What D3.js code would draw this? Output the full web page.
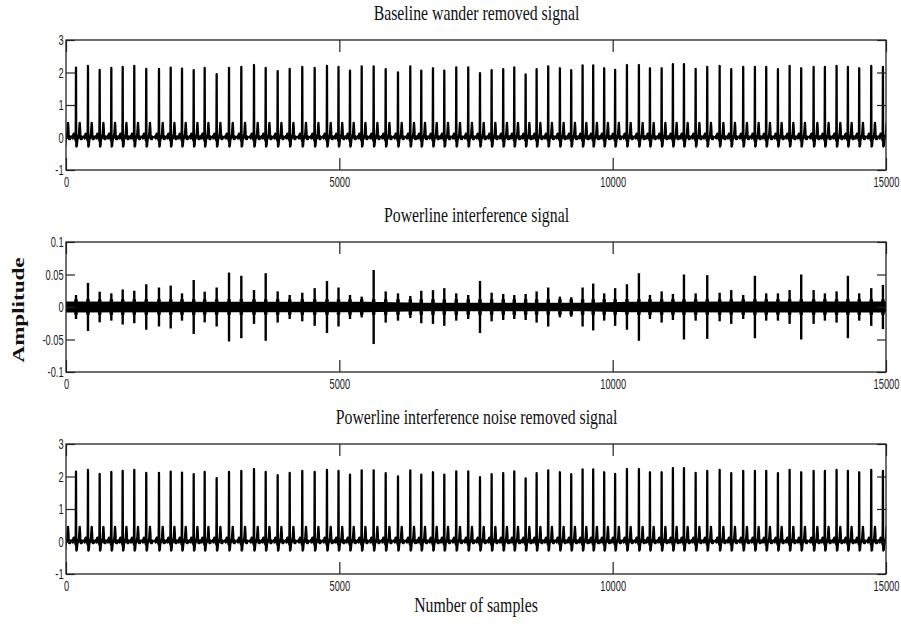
<!DOCTYPE html>
<html>
<head>
<meta charset="utf-8">
<script src="https://cdn.jsdelivr.net/npm/d3@7"></script>
<style>
  html, body { margin: 0; padding: 0; background: #fff; }
  svg { display: block; }
</style>
</head>
<body>
<svg id="chart" width="901" height="624"></svg>
<script>
// ---------------- DATA ----------------
const panelTitles = [
  "Baseline wander removed signal",
  "Powerline interference signal",
  "Powerline interference noise removed signal"
];
const xLabel = "Number of samples";
const yLabel = "Amplitude";

const xTicks = [0, 5000, 10000, 15000];
const yTicksEcg = [-1, 0, 1, 2, 3];
const yTicksPowerline = [-0.1, -0.05, 0, 0.05, 0.1];

// R-peak sample positions (first one is the beat just before the record start)
const beatSamples = [
  -31, 183, 402, 616, 829, 1037, 1249, 1468, 1701, 1915, 2122, 2336, 2537, 2756, 2982, 3207,
  3439, 3653, 3872, 4092, 4322, 4549, 4774, 4985, 5195, 5409, 5628, 5848, 6073,
  6298, 6499, 6713, 6920, 7139, 7358, 7573, 7786, 7998, 8200, 8408, 8609, 8821,
  9035, 9242, 9450, 9644, 9845, 10045, 10261, 10480, 10682, 10896, 11102, 11304,
  11518, 11730, 11957, 12169, 12388, 12602, 12809, 13023, 13237, 13449, 13676,
  13882, 14096, 14303, 14510, 14730, 14944
];
// R-peak amplitudes of the ECG (same beats)
const beatPeaks = [
  2.10, 2.15, 2.20, 2.08, 2.14, 2.17, 2.20, 2.11, 2.11, 2.15, 2.12, 2.07, 2.14, 1.95, 2.14, 2.17,
  2.23, 2.14, 2.04, 2.11, 2.17, 2.14, 2.20, 2.17,
  2.06, 2.19, 2.19, 2.10, 2.00, 2.19, 2.06, 2.13, 2.06, 2.16, 2.16, 1.98, 2.07,
  2.10, 2.16, 1.94, 2.10, 2.19, 2.13, 2.07, 2.22, 2.22, 2.13,
  2.08,
  2.23, 2.23, 2.13, 2.13, 2.26, 2.26, 2.11, 2.17, 2.20, 2.10, 2.17, 2.17, 2.17,
  2.10, 2.20, 2.13, 2.17, 2.17, 2.20, 2.17, 2.13, 2.20, 2.17
];
// Powerline-interference spike amplitude at each beat
const beatPowerline = [
  0.020,
  0.0185, 0.037, 0.0236, 0.021, 0.027, 0.025, 0.035, 0.030, 0.033, 0.021,
  0.0415, 0.0236, 0.030, 0.053, 0.048, 0.026, 0.052, 0.024, 0.0185, 0.022,
  0.029, 0.040, 0.030, 0.0185, 0.016, 0.057, 0.024, 0.021, 0.017, 0.025,
  0.026, 0.029, 0.021, 0.0185, 0.040, 0.022, 0.020, 0.0185, 0.020, 0.024,
  0.030, 0.016, 0.015, 0.030, 0.036, 0.021, 0.029, 0.035, 0.052, 0.0185,
  0.024, 0.020, 0.050, 0.021, 0.049, 0.022, 0.026, 0.0185, 0.048, 0.021,
  0.021, 0.026, 0.050, 0.026, 0.021, 0.024, 0.048, 0.021, 0.029, 0.034
];

// One heart-beat waveform (sample offset from R peak, amplitude); R value comes from beatPeaks
const beatShapeOffsets = [-75, -66, -58, -50, -42, -34, -26, -18, -12, -7, -3, 0, 3, 6, 10, 15, 20, 26, 34, 44, 54, 62, 68, 73, 80, 88, 96, 104, 112];
const beatShapeValues  = [0.00, 0.05, -0.03, 0.08, 0.12, 0.05, 0.02, -0.04, 0.03, -0.10, 0.60, null, 0.20, -0.28, -0.12, -0.26, -0.14, -0.06, 0.04, -0.02, 0.10, 0.30, 0.45, 0.32, 0.08, -0.05, 0.04, -0.05, 0.02];

// Envelope of the dense 50/60 Hz band in the powerline signal
const bandSamples   = [0, 2500, 5500, 6500, 9500, 10300, 12500, 15000];
const bandAmplitude = [0.0085, 0.008, 0.008, 0.0065, 0.0065, 0.008, 0.0085, 0.0085];

// ---------------- CHART ----------------
const svg = d3.select("#chart");
const left = 66, right = 886, panelH = 130;
const panelTops = [40, 242, 444];

const x = d3.scaleLinear().domain([0, 15000]).range([left, right]);

const ecgPoints = [];
beatSamples.forEach((s, i) => {
  beatShapeOffsets.forEach((o, j) => {
    const v = beatShapeValues[j] === null ? beatPeaks[i] : beatShapeValues[j];
    ecgPoints.push([s + o, v]);
  });
});
ecgPoints.sort((a, b) => a[0] - b[0]);

const tickFont = "'Liberation Sans', Arial, sans-serif";
const serifFont = "'Liberation Serif', 'Times New Roman', serif";

function drawPanel(idx, yDomain, yTicks, drawData) {
  const top = panelTops[idx], bottom = top + panelH;
  const y = d3.scaleLinear().domain(yDomain).range([bottom, top]);
  const g = svg.append("g");

  const clipId = "clip" + idx;
  svg.append("defs").append("clipPath").attr("id", clipId)
    .append("rect").attr("x", left).attr("y", top).attr("width", right - left).attr("height", panelH);

  const dg = g.append("g").attr("clip-path", `url(#${clipId})`);
  drawData(dg, y);

  const styleAxis = (sel, labels) => {
    sel.select(".domain").remove();
    sel.selectAll(".tick line").attr("stroke", "#222").attr("stroke-width", 1.2);
    sel.selectAll(".tick text")
      .attr("fill", "#222")
      .style("font-family", tickFont)
      .style("font-size", "15.5px")
      .attr("transform", "scale(0.6,1)");
    if (!labels) sel.selectAll(".tick text").remove();
  };

  g.append("g").attr("transform", `translate(0,${bottom})`)
    .call(d3.axisBottom(x).tickValues(xTicks).tickSize(-12).tickSizeOuter(0).tickPadding(6).tickFormat(d => String(d)))
    .call(s => styleAxis(s, true));
  g.append("g").attr("transform", `translate(0,${top})`)
    .call(d3.axisTop(x).tickValues(xTicks).tickSize(-12).tickSizeOuter(0).tickFormat(() => ""))
    .call(s => styleAxis(s, false));
  g.append("g").attr("transform", `translate(${left},0)`)
    .call(d3.axisLeft(y).tickValues(yTicks).tickSize(-9).tickSizeOuter(0).tickPadding(4).tickFormat(d => String(d)))
    .call(s => styleAxis(s, true));
  g.append("g").attr("transform", `translate(${right},0)`)
    .call(d3.axisRight(y).tickValues(yTicks).tickSize(-9).tickSizeOuter(0).tickFormat(() => ""))
    .call(s => styleAxis(s, false));

  g.append("rect").attr("x", left).attr("y", top).attr("width", right - left).attr("height", panelH)
    .attr("fill", "none").attr("stroke", "#222").attr("stroke-width", 1.3);

  svg.append("text")
    .attr("transform", `translate(${(left + right) / 2 + 0.5},${top - 20}) scale(0.79,1)`)
    .attr("text-anchor", "middle")
    .style("font-family", serifFont).style("font-size", "20px").attr("fill", "#111")
    .text(panelTitles[idx]);
}

function drawEcg(g, y) {
  const line = d3.line().x(d => x(d[0])).y(d => y(d[1]));
  g.append("path").datum(ecgPoints).attr("d", line)
    .attr("fill", "none").attr("stroke", "#000").attr("stroke-width", 2.3).attr("stroke-linejoin", "round");
}

function drawPowerline(g, y) {
  const band = bandSamples.map((s, i) => [s, bandAmplitude[i]]);
  const area = d3.area().x(d => x(d[0])).y0(d => y(-d[1])).y1(d => y(d[1]));
  g.append("path").datum(band).attr("d", area).attr("fill", "#000");
  g.selectAll("line.burst").data(beatSamples).join("line").attr("class", "burst")
    .attr("x1", d => x(d)).attr("x2", d => x(d))
    .attr("y1", y(-0.012)).attr("y2", y(0.012))
    .attr("stroke", "#000").attr("stroke-width", 3.5);
  g.selectAll("line.spike").data(beatSamples).join("line").attr("class", "spike")
    .attr("x1", d => x(d)).attr("x2", d => x(d))
    .attr("y1", (d, i) => y(-beatPowerline[i])).attr("y2", (d, i) => y(beatPowerline[i]))
    .attr("stroke", "#000").attr("stroke-width", 2.4);
}

drawPanel(0, [-1, 3], yTicksEcg, drawEcg);
drawPanel(1, [-0.1, 0.1], yTicksPowerline, drawPowerline);
drawPanel(2, [-1, 3], yTicksEcg, drawEcg);

svg.append("text")
  .attr("transform", `translate(476,612) scale(0.79,1)`)
  .attr("text-anchor", "middle")
  .style("font-family", serifFont).style("font-size", "20px").attr("fill", "#111")
  .text(xLabel);

svg.append("text")
  .attr("transform", `translate(24,310) rotate(-90)`)
  .attr("text-anchor", "middle")
  .attr("textLength", 105).attr("lengthAdjust", "spacingAndGlyphs")
  .style("font-family", serifFont).style("font-size", "16px").style("font-weight", "bold").attr("fill", "#111")
  .text(yLabel);
</script>
</body>
</html>
